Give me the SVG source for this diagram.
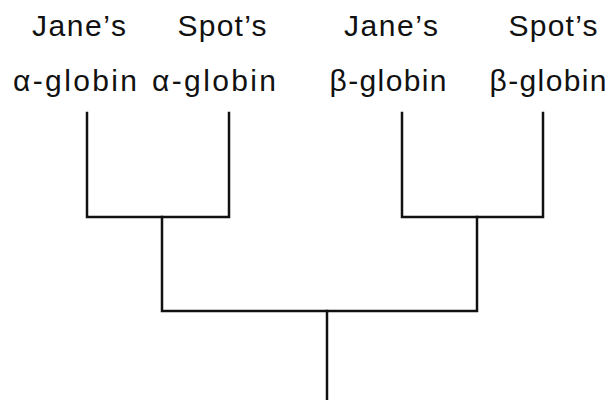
<svg xmlns="http://www.w3.org/2000/svg" width="611" height="400" viewBox="0 0 611 400">
<style>
text{font-family:"Liberation Sans",Arial,sans-serif;font-size:30px;fill:#111;text-anchor:middle}
.c{fill:none;stroke:#111;stroke-width:2.5;stroke-linecap:square}
</style>
<rect width="611" height="400" fill="#fff"/>
<g id="jane-alpha"><text x="79" y="36" textLength="94" lengthAdjust="spacing">Jane’s</text><text x="75" y="91" textLength="124" lengthAdjust="spacing">α-globin</text></g>
<g id="spot-alpha"><text x="222" y="36" textLength="89" lengthAdjust="spacing">Spot’s</text><text x="214" y="91" textLength="124" lengthAdjust="spacing">α-globin</text></g>
<g id="jane-beta"><text x="391" y="36" textLength="94" lengthAdjust="spacing">Jane’s</text><text x="388" y="91" textLength="117" lengthAdjust="spacing">β-globin</text></g>
<g id="spot-beta"><text x="553" y="36" textLength="89" lengthAdjust="spacing">Spot’s</text><text x="548" y="91" textLength="117" lengthAdjust="spacing">β-globin</text></g>
<g id="connectors">
<path class="c" d="M87 113V217H229V113"/>
<path class="c" d="M402 113V217H543V113"/>
<path class="c" d="M162 217V311H477V217"/>
<path class="c" d="M327 311V400"/>
</g>
</svg>
